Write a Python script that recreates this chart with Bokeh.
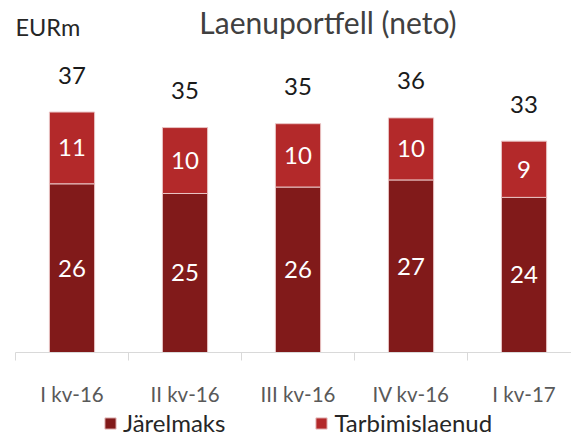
from bokeh.plotting import figure
from bokeh.layouts import column
from bokeh.models import (ColumnDataSource, Range1d, FixedTicker, LabelSet, Label,
                          Legend, LegendItem)
from bokeh.core.properties import value
from bokeh.embed import file_html
from bokeh.resources import INLINE

# ---- data ----
categories = ["I kv-16", "II kv-16", "III kv-16", "IV kv-16", "I kv-17"]
jarelmaks = [26.1, 24.6, 25.6, 26.7, 24.0]
tarbimislaenud = [11.1, 10.2, 9.8, 9.6, 8.7]
series_names = ["Järelmaks", "Tarbimislaenud"]
title_text = "Laenuportfell (neto)"
unit_text = "EURm"

FONT = "Lato"
C_DARK = "#811a1a"
C_LIGHT = "#b3292a"
C_EDGE = "#e9c4c4"

xs = [i + 0.5 for i in range(len(categories))]
totals = [a + b for a, b in zip(jarelmaks, tarbimislaenud)]
src = ColumnDataSource(dict(
    x=xs,
    jar=jarelmaks,
    tarb=tarbimislaenud,
    jar_mid=[a / 2 for a in jarelmaks],
    tarb_mid=[a + b / 2 for a, b in zip(jarelmaks, tarbimislaenud)],
    tot=totals,
    jar_lbl=[str(round(v)) for v in jarelmaks],
    tarb_lbl=[str(round(v)) for v in tarbimislaenud],
    tot_lbl=[str(round(v)) for v in totals],
))

p = figure(width=571, height=408, title=None, toolbar_location=None,
           output_backend="svg", x_range=Range1d(0, 4.92), y_range=Range1d(0, 54.46),
           y_axis_location=None, min_border_left=15, min_border_right=0,
           min_border_top=0, min_border_bottom=54)
p.outline_line_color = None
p.xgrid.visible = False
p.ygrid.visible = False

renderers = p.vbar_stack(["jar", "tarb"], x="x", width=0.4, source=src,
                         fill_color=[C_DARK, C_LIGHT], line_color=C_EDGE,
                         line_width=1)

ax = p.xaxis[0]
ax.ticker = FixedTicker(ticks=xs, minor_ticks=list(range(len(categories) + 1)))
ax.major_label_overrides = {x: c for x, c in zip(xs, categories)}
ax.major_tick_line_color = None
ax.major_tick_out = 0
ax.major_tick_in = 0
ax.minor_tick_out = 8
ax.minor_tick_in = 0
ax.minor_tick_line_color = "#d9d9d9"
ax.axis_line_color = "#d9d9d9"
ax.major_label_standoff = 21
ax.major_label_text_font = FONT
ax.major_label_text_font_size = "20.5px"
ax.major_label_text_color = "#595959"

lbl_kw = dict(source=src, text_align="center", text_baseline="middle",
              text_font=value(FONT), text_font_size="24px")
p.add_layout(LabelSet(x="x", y="jar_mid", text="jar_lbl", text_color="white", **lbl_kw))
p.add_layout(LabelSet(x="x", y="tarb_mid", text="tarb_lbl", text_color="white", **lbl_kw))
p.add_layout(LabelSet(x="x", y="tot", text="tot_lbl", y_offset=37,
                      text_color="#1a1a1a", **lbl_kw))

p.add_layout(Label(x=2.765, y=51.08, text=title_text, text_align="center",
                   text_baseline="middle", text_font=FONT,
                   text_font_size="30px", text_color="#404040"))
p.add_layout(Label(x=0, y=50.3, text=unit_text, text_align="left",
                   text_baseline="middle", text_font=FONT,
                   text_font_size="23.5px", text_color="#262626"))

# legend strip below the chart (its key glyphs use the same data, kept out of view)
pl = figure(width=571, height=29, title=None, toolbar_location=None,
            output_backend="svg", x_range=Range1d(-3, -2), y_range=Range1d(0, 1),
            x_axis_location=None, y_axis_location=None,
            min_border_left=0, min_border_right=0, min_border_top=0, min_border_bottom=0)
pl.outline_line_color = None
pl.xgrid.visible = False
pl.ygrid.visible = False
keys = pl.vbar_stack(["jar", "tarb"], x="x", width=0.4, source=src,
                     fill_color=[C_DARK, C_LIGHT], line_color=C_EDGE, line_width=1)
legend = Legend(items=[LegendItem(label=n, renderers=[r])
                       for n, r in zip(series_names, keys)],
                location=(88, 0), orientation="horizontal",
                glyph_width=14, glyph_height=14, label_standoff=6, spacing=89,
                padding=0, margin=0, border_line_color=None,
                background_fill_alpha=0, label_text_font=FONT,
                label_text_font_size="24px", label_text_color="#262626")
pl.add_layout(legend)

layout = column(p, pl, spacing=0)
open("out.html", "w").write(file_html(layout, INLINE))
